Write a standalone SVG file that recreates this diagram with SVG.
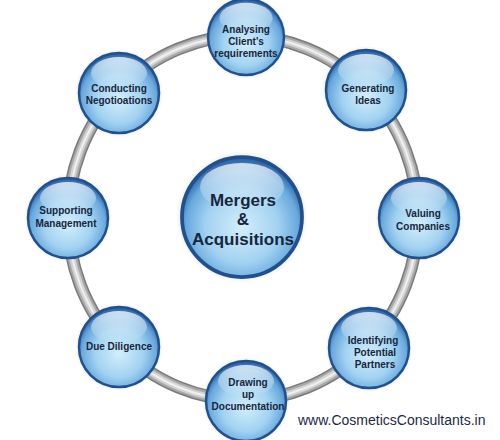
<svg xmlns="http://www.w3.org/2000/svg" xmlns:xlink="http://www.w3.org/1999/xlink" width="500" height="440" viewBox="0 0 500 440">
<style>
.lbl{font-family:"Liberation Sans",Arial,sans-serif;font-weight:bold;font-size:10px;fill:#16263d;text-anchor:middle}
.big{font-family:"Liberation Sans",Arial,sans-serif;font-weight:bold;font-size:17px;fill:#16263d;text-anchor:middle}
.url{font-family:"Liberation Sans",Arial,sans-serif;font-size:14px;fill:#1c2a4a}
</style>
<defs>
<radialGradient id="bg" cx="50%" cy="58%" r="55%">
<stop offset="0" stop-color="#d3eefb"/>
<stop offset="0.55" stop-color="#a2d2f1"/>
<stop offset="0.85" stop-color="#68a9dd"/>
<stop offset="1" stop-color="#3169ab"/>
</radialGradient>
<linearGradient id="gloss" x1="0" y1="0" x2="0" y2="1">
<stop offset="0" stop-color="#ffffff" stop-opacity="0.75"/>
<stop offset="1" stop-color="#ffffff" stop-opacity="0"/>
</linearGradient>
<radialGradient id="halo" cx="50%" cy="50%" r="50%">
<stop offset="0.85" stop-color="#9ab" stop-opacity="0.35"/>
<stop offset="1" stop-color="#9ab" stop-opacity="0"/>
</radialGradient>
<g id="ball">
<circle r="44" fill="url(#halo)"/>
<circle r="40" fill="url(#bg)" stroke="#22508c" stroke-width="2.5"/>
<ellipse cy="-20" rx="28" ry="16" fill="url(#gloss)"/>
</g>
</defs>
<rect width="500" height="440" fill="#ffffff"/>
<g id="connectors" fill="none">
<ellipse cx="243" cy="218" rx="175" ry="182" stroke="#7a7a7a" stroke-width="13"/>
<ellipse cx="243" cy="218" rx="175" ry="182" stroke="#a8a8a8" stroke-width="10"/>
<ellipse cx="243" cy="218" rx="175" ry="182" stroke="#d2d2d2" stroke-width="6"/>
<ellipse cx="243" cy="218" rx="175" ry="182" stroke="#f0f0f0" stroke-width="2"/>
</g>
<g id="center">
<use xlink:href="#ball" transform="translate(242,217) scale(1.5)"/>
<text class="big" x="243" y="206">Mergers</text>
<text class="big" x="243" y="225">&amp;</text>
<text class="big" x="243" y="245">Acquisitions</text>
</g>
<g id="n-analysing">
<use xlink:href="#ball" transform="translate(246,37) scale(0.95)"/>
<text class="lbl" x="246" y="33">Analysing</text>
<text class="lbl" x="246" y="45">Client's</text>
<text class="lbl" x="246" y="57">requirements</text>
</g>
<g id="n-generating">
<use xlink:href="#ball" transform="translate(366,90)"/>
<text class="lbl" x="368" y="92">Generating</text>
<text class="lbl" x="368" y="104">Ideas</text>
</g>
<g id="n-valuing">
<use xlink:href="#ball" transform="translate(419,218)"/>
<text class="lbl" x="423" y="217">Valuing</text>
<text class="lbl" x="423" y="230">Companies</text>
</g>
<g id="n-identifying">
<use xlink:href="#ball" transform="translate(369,348)"/>
<text class="lbl" x="373" y="344">Identifying</text>
<text class="lbl" x="375" y="356">Potential</text>
<text class="lbl" x="375" y="368">Partners</text>
</g>
<g id="n-drawing">
<use xlink:href="#ball" transform="translate(246,401)"/>
<text class="lbl" x="248" y="386">Drawing</text>
<text class="lbl" x="248" y="398">up</text>
<text class="lbl" x="248" y="410">Documentation</text>
</g>
<g id="n-due">
<use xlink:href="#ball" transform="translate(119,347)"/>
<text class="lbl" x="119" y="350">Due Diligence</text>
</g>
<g id="n-supporting">
<use xlink:href="#ball" transform="translate(68,218)"/>
<text class="lbl" x="66" y="214">Supporting</text>
<text class="lbl" x="66" y="227">Management</text>
</g>
<g id="n-conducting">
<use xlink:href="#ball" transform="translate(119,93)"/>
<text class="lbl" x="119" y="92">Conducting</text>
<text class="lbl" x="119" y="104">Negotioations</text>
</g>
<text class="url" x="298" y="425">www.CosmeticsConsultants.in</text>
</svg>
